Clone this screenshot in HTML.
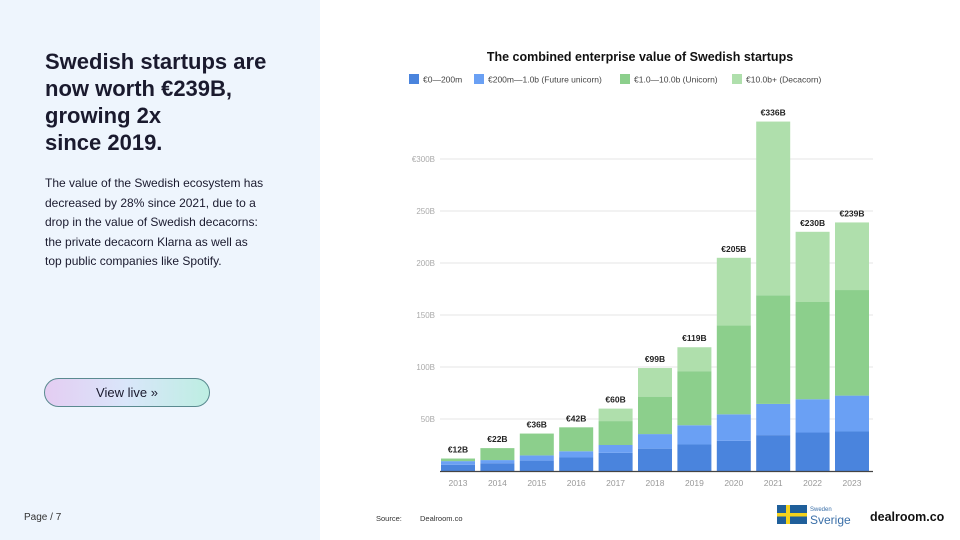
<!DOCTYPE html>
<html><head><meta charset="utf-8"><style>
body{margin:0;width:960px;height:540px;overflow:hidden;background:#fff;font-family:"Liberation Sans",sans-serif;position:relative}
#left{position:absolute;left:0;top:0;width:320px;height:540px;background:#eef5fd}
h1{position:absolute;left:45px;top:48px;margin:0;font-size:22px;line-height:27px;font-weight:bold;color:#1a1a2e;white-space:nowrap}
#desc{position:absolute;left:45px;top:174px;font-size:12px;line-height:19.5px;color:#1a1a2e;white-space:nowrap}
#btn{position:absolute;left:44px;top:378px;width:164px;height:27px;border:1.5px solid #5a8a90;border-radius:15px;background:linear-gradient(90deg,#e4cdf2,#d9e6fa,#bdeee2);text-align:center;line-height:27px;font-size:13px;color:#1a1a2e}
#page{position:absolute;left:24px;top:512px;font-size:10px;color:#333}
svg text{font-family:"Liberation Sans",sans-serif}
</style></head><body>
<div id="left"></div>
<h1>Swedish startups are<br>now worth €239B,<br>growing 2x<br>since 2019.</h1>
<div id="desc">The value of the Swedish ecosystem has<br>decreased by 28% since 2021, due to a<br>drop in the value of Swedish decacorns:<br>the private decacorn Klarna as well as<br>top public companies like Spotify.</div>
<div id="btn">View live »</div>
<div id="page">Page / 7</div>
<svg id="chart" width="960" height="540" style="position:absolute;left:0;top:0">
<text x="640" y="61" text-anchor="middle" font-size="12.5" font-weight="bold" fill="#111">The combined enterprise value of Swedish startups</text>
<g id="legend"></g><g id="grid"></g><g id="bars"></g>
<text x="376" y="521" font-size="7.5" fill="#333">Source:</text>
<text x="420" y="521" font-size="7.5" fill="#333">Dealroom.co</text>
<g>
<rect x="777" y="505" width="30" height="19" fill="#1f5f9a"/><rect x="786" y="505" width="4" height="19" fill="#f4d21c"/><rect x="777" y="513" width="30" height="3.5" fill="#f4d21c"/>
<text x="810" y="511" font-size="6" fill="#3a6fa8">Sweden</text><text x="810" y="524" font-size="12" fill="#3a6fa8">Sverige</text></g>
<text x="870" y="521" font-size="12.5" font-weight="bold" fill="#111">dealroom.co</text>
</svg>
<script>
const years=["2013","2014","2015","2016","2017","2018","2019","2020","2021","2022","2023"];
const seg0=[6,7.5,10,13,17.5,21.5,25.5,29,34.5,37,38];
const seg1=[3.5,3,5,6,7.5,14,18.5,25.5,30,32,34.5];
const seg2=[2.5,11.5,21,23,23,36,52,85.5,104.5,93.5,101.5];
const seg3=[0,0,0,0,12,27.5,23,65,167,67.5,65];
const totals=["€12B","€22B","€36B","€42B","€60B","€99B","€119B","€205B","€336B","€230B","€239B"];
const ticks=[50,100,150,200,250,300];
const tickLabels=["50B","100B","150B","200B","250B","€300B"];
const legendLabels=["€0—200m","€200m—1.0b (Future unicorn)","€1.0—10.0b (Unicorn)","€10.0b+ (Decacorn)"];
const colors=["#4a84dd","#6aa0f4","#8ccf8c","#afdfac"];
const NS="http://www.w3.org/2000/svg";
const y=v=>471-v*1.04;
const x=i=>458+i*39.4;
const bw=34;
function mk(p,t,a){const e=document.createElementNS(NS,t);for(const k in a)e.setAttribute(k,a[k]);p.appendChild(e);return e;}
const grid=document.getElementById('grid'),bars=document.getElementById('bars'),leg=document.getElementById('legend');
ticks.forEach((t,i)=>{
 const l=mk(grid,'line',{x1:440,x2:873,y1:y(t),y2:y(t),stroke:'#e6e6e6','stroke-width':1});
 
 
 const tx=mk(grid,'text',{x:435,y:y(t)+3,'text-anchor':'end','font-size':8,fill:'#aaa'});tx.textContent=tickLabels[i];
 
 
});
const segs=[seg0,seg1,seg2,seg3];
years.forEach((yr,i)=>{
 let acc=0;
 segs.forEach((s,k)=>{
  const v=s[i];if(v<=0)return;
  const r=mk(bars,'rect',{x:x(i)-bw/2,y:y(acc+v),width:bw,height:v*1.04,fill:colors[k]});
  
  
  acc+=v;
 });
 const t=mk(bars,'text',{x:x(i),y:y(acc)-6,'text-anchor':'middle','font-size':8.5,'font-weight':'bold',fill:'#222'});t.textContent=totals[i];
 
 
 const xl=mk(bars,'text',{x:x(i),y:486,'text-anchor':'middle','font-size':8.5,fill:'#999'});xl.textContent=yr;
 
 
});
const ax=mk(bars,'line',{x1:440,x2:873,y1:471.5,y2:471.5,stroke:'#444','stroke-width':1.2});


const lx=[409,474,620,732];
legendLabels.forEach((l,i)=>{
 const g=mk(leg,'g',{});
 
 
 mk(g,'rect',{x:lx[i],y:74,width:10,height:10,fill:colors[i]});
 const t=mk(g,'text',{x:lx[i]+14,y:82.5,'font-size':8.5,fill:'#444'});t.textContent=l;
});
</script>
</body></html>
